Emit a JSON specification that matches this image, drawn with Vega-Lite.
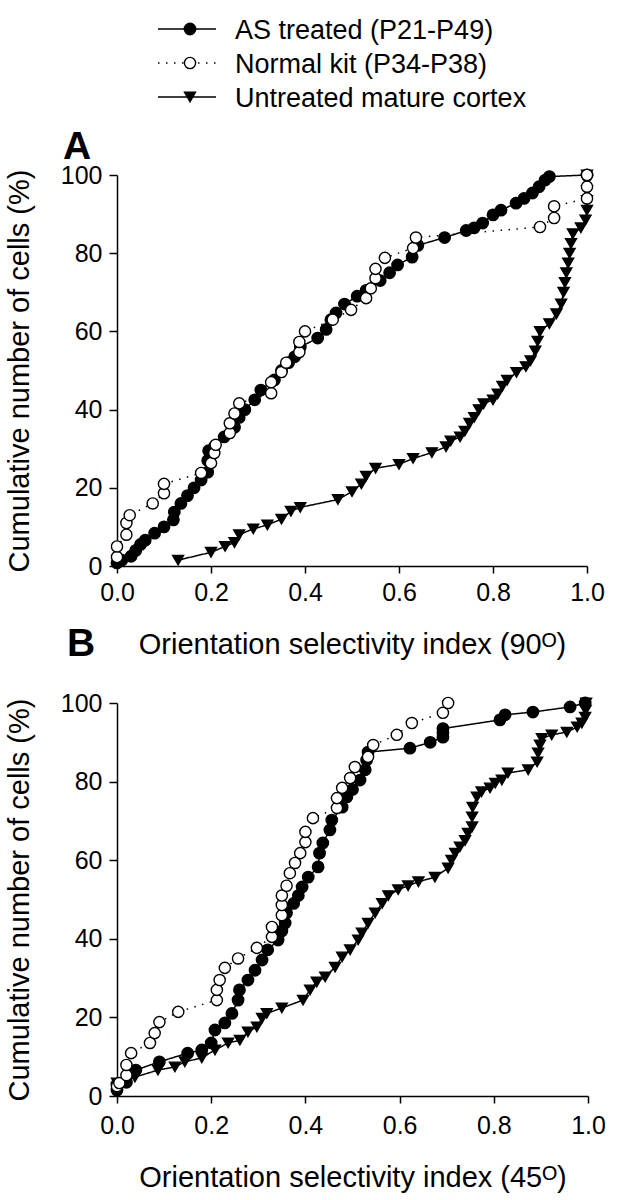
{
"$schema": "https://vega.github.io/schema/vega-lite/v6.json",
"background": "white",
"padding": {"left": 5, "top": 12, "right": 5, "bottom": 5},
"config": {
  "view": {"stroke": null},
  "font": "Liberation Sans",
  "axis": {"domainColor": "black", "domainWidth": 1.5, "tickColor": "black", "tickWidth": 1.5, "tickSize": 8, "labelFontSize": 25, "labelColor": "black", "labelFont": "Liberation Sans", "labelPadding": 7, "labelFlush": false, "labelOverlap": false, "titleFont": "Liberation Sans", "titleFontSize": 29, "titleFontWeight": "normal", "titleColor": "black", "grid": false},
  "axisX": {"titlePadding": 25, "tickSize": 7},
  "axisY": {"titlePadding": 26}
},
"datasets": {
  "leg": [
    {"g": "AS", "label": "AS treated (P21-P49)"},
    {"g": "NK", "label": "Normal kit (P34-P38)"},
    {"g": "UT", "label": "Untreated mature cortex"}
  ],
  "pts": [
{"p":"A","g":"UT","x":0.13,"y":1.5},{"p":"A","g":"UT","x":0.2,"y":3.5},{"p":"A","g":"UT","x":0.23,"y":5},{"p":"A","g":"UT","x":0.25,"y":6},{"p":"A","g":"UT","x":0.26,"y":8},{"p":"A","g":"UT","x":0.29,"y":9.5},{"p":"A","g":"UT","x":0.32,"y":10.5},{"p":"A","g":"UT","x":0.35,"y":12},{"p":"A","g":"UT","x":0.37,"y":14},{"p":"A","g":"UT","x":0.39,"y":15},{"p":"A","g":"UT","x":0.47,"y":17},{"p":"A","g":"UT","x":0.5,"y":19},{"p":"A","g":"UT","x":0.52,"y":21},{"p":"A","g":"UT","x":0.53,"y":23},{"p":"A","g":"UT","x":0.55,"y":25},{"p":"A","g":"UT","x":0.6,"y":26},{"p":"A","g":"UT","x":0.63,"y":27.5},{"p":"A","g":"UT","x":0.67,"y":29},{"p":"A","g":"UT","x":0.7,"y":30.5},{"p":"A","g":"UT","x":0.71,"y":32},{"p":"A","g":"UT","x":0.73,"y":33},{"p":"A","g":"UT","x":0.74,"y":34.5},{"p":"A","g":"UT","x":0.75,"y":36.5},{"p":"A","g":"UT","x":0.76,"y":38},{"p":"A","g":"UT","x":0.77,"y":40},{"p":"A","g":"UT","x":0.78,"y":41.5},{"p":"A","g":"UT","x":0.8,"y":42.5},{"p":"A","g":"UT","x":0.81,"y":44},{"p":"A","g":"UT","x":0.82,"y":46},{"p":"A","g":"UT","x":0.83,"y":47.5},{"p":"A","g":"UT","x":0.85,"y":49.5},{"p":"A","g":"UT","x":0.87,"y":51},{"p":"A","g":"UT","x":0.88,"y":52.5},{"p":"A","g":"UT","x":0.89,"y":55},{"p":"A","g":"UT","x":0.895,"y":57.5},{"p":"A","g":"UT","x":0.9,"y":60},{"p":"A","g":"UT","x":0.92,"y":62},{"p":"A","g":"UT","x":0.935,"y":64.5},{"p":"A","g":"UT","x":0.945,"y":67},{"p":"A","g":"UT","x":0.95,"y":70},{"p":"A","g":"UT","x":0.953,"y":72.5},{"p":"A","g":"UT","x":0.956,"y":75},{"p":"A","g":"UT","x":0.96,"y":77.5},{"p":"A","g":"UT","x":0.963,"y":80},{"p":"A","g":"UT","x":0.966,"y":82.5},{"p":"A","g":"UT","x":0.97,"y":85},{"p":"A","g":"UT","x":0.987,"y":86.5},{"p":"A","g":"UT","x":0.997,"y":88.5},{"p":"A","g":"UT","x":1,"y":91},{"p":"A","g":"UT","x":1,"y":93.5},{"p":"A","g":"UT","x":1,"y":96},{"p":"A","g":"UT","x":1,"y":98.5},{"p":"A","g":"UT","x":1,"y":100},
{"p":"A","g":"AS","x":0,"y":0.8},{"p":"A","g":"AS","x":0.01,"y":1.5},{"p":"A","g":"AS","x":0.03,"y":2.5},{"p":"A","g":"AS","x":0.04,"y":4},{"p":"A","g":"AS","x":0.05,"y":5.5},{"p":"A","g":"AS","x":0.06,"y":6.6},{"p":"A","g":"AS","x":0.08,"y":8.4},{"p":"A","g":"AS","x":0.1,"y":10},{"p":"A","g":"AS","x":0.12,"y":11.8},{"p":"A","g":"AS","x":0.122,"y":13.8},{"p":"A","g":"AS","x":0.136,"y":16},{"p":"A","g":"AS","x":0.15,"y":18},{"p":"A","g":"AS","x":0.164,"y":20},{"p":"A","g":"AS","x":0.179,"y":22},{"p":"A","g":"AS","x":0.193,"y":24},{"p":"A","g":"AS","x":0.193,"y":27},{"p":"A","g":"AS","x":0.195,"y":29.5},{"p":"A","g":"AS","x":0.207,"y":30.5},{"p":"A","g":"AS","x":0.228,"y":33},{"p":"A","g":"AS","x":0.25,"y":35.5},{"p":"A","g":"AS","x":0.26,"y":38},{"p":"A","g":"AS","x":0.272,"y":40},{"p":"A","g":"AS","x":0.293,"y":42.5},{"p":"A","g":"AS","x":0.306,"y":45},{"p":"A","g":"AS","x":0.335,"y":47.6},{"p":"A","g":"AS","x":0.35,"y":50},{"p":"A","g":"AS","x":0.365,"y":52},{"p":"A","g":"AS","x":0.378,"y":53.5},{"p":"A","g":"AS","x":0.39,"y":56},{"p":"A","g":"AS","x":0.427,"y":58.3},{"p":"A","g":"AS","x":0.445,"y":60.5},{"p":"A","g":"AS","x":0.455,"y":63},{"p":"A","g":"AS","x":0.466,"y":64.7},{"p":"A","g":"AS","x":0.484,"y":67},{"p":"A","g":"AS","x":0.511,"y":69},{"p":"A","g":"AS","x":0.53,"y":70.5},{"p":"A","g":"AS","x":0.56,"y":73},{"p":"A","g":"AS","x":0.58,"y":75},{"p":"A","g":"AS","x":0.597,"y":77},{"p":"A","g":"AS","x":0.628,"y":79},{"p":"A","g":"AS","x":0.64,"y":82},{"p":"A","g":"AS","x":0.697,"y":84},{"p":"A","g":"AS","x":0.743,"y":85.8},{"p":"A","g":"AS","x":0.76,"y":86.5},{"p":"A","g":"AS","x":0.778,"y":87.7},{"p":"A","g":"AS","x":0.8,"y":89.8},{"p":"A","g":"AS","x":0.817,"y":91},{"p":"A","g":"AS","x":0.849,"y":92.8},{"p":"A","g":"AS","x":0.866,"y":94},{"p":"A","g":"AS","x":0.884,"y":95.4},{"p":"A","g":"AS","x":0.898,"y":97},{"p":"A","g":"AS","x":0.911,"y":98.7},{"p":"A","g":"AS","x":0.92,"y":99.6},{"p":"A","g":"AS","x":1,"y":100},
{"p":"A","g":"NK","x":0,"y":2.3},{"p":"A","g":"NK","x":0,"y":5},{"p":"A","g":"NK","x":0.02,"y":8},{"p":"A","g":"NK","x":0.02,"y":11},{"p":"A","g":"NK","x":0.027,"y":13},{"p":"A","g":"NK","x":0.076,"y":16},{"p":"A","g":"NK","x":0.1,"y":18.6},{"p":"A","g":"NK","x":0.1,"y":21},{"p":"A","g":"NK","x":0.179,"y":23.8},{"p":"A","g":"NK","x":0.2,"y":26.3},{"p":"A","g":"NK","x":0.207,"y":28.9},{"p":"A","g":"NK","x":0.21,"y":31},{"p":"A","g":"NK","x":0.24,"y":34},{"p":"A","g":"NK","x":0.24,"y":36.5},{"p":"A","g":"NK","x":0.25,"y":39},{"p":"A","g":"NK","x":0.26,"y":41.6},{"p":"A","g":"NK","x":0.328,"y":44.2},{"p":"A","g":"NK","x":0.328,"y":47},{"p":"A","g":"NK","x":0.35,"y":49.6},{"p":"A","g":"NK","x":0.36,"y":52},{"p":"A","g":"NK","x":0.388,"y":54.7},{"p":"A","g":"NK","x":0.388,"y":57.3},{"p":"A","g":"NK","x":0.4,"y":60},{"p":"A","g":"NK","x":0.459,"y":63},{"p":"A","g":"NK","x":0.498,"y":65.5},{"p":"A","g":"NK","x":0.53,"y":68.5},{"p":"A","g":"NK","x":0.54,"y":71},{"p":"A","g":"NK","x":0.55,"y":73.6},{"p":"A","g":"NK","x":0.55,"y":76},{"p":"A","g":"NK","x":0.57,"y":78.8},{"p":"A","g":"NK","x":0.63,"y":81.3},{"p":"A","g":"NK","x":0.636,"y":84},{"p":"A","g":"NK","x":0.9,"y":86.7},{"p":"A","g":"NK","x":0.93,"y":89},{"p":"A","g":"NK","x":0.93,"y":92},{"p":"A","g":"NK","x":1,"y":94},{"p":"A","g":"NK","x":1,"y":97},{"p":"A","g":"NK","x":1,"y":100},
{"p":"B","g":"UT","x":0,"y":2},{"p":"B","g":"UT","x":0,"y":3.3},{"p":"B","g":"UT","x":0.038,"y":4.8},{"p":"B","g":"UT","x":0.087,"y":6.6},{"p":"B","g":"UT","x":0.123,"y":7.4},{"p":"B","g":"UT","x":0.144,"y":8.7},{"p":"B","g":"UT","x":0.18,"y":9.7},{"p":"B","g":"UT","x":0.208,"y":11.7},{"p":"B","g":"UT","x":0.236,"y":13.5},{"p":"B","g":"UT","x":0.261,"y":14.2},{"p":"B","g":"UT","x":0.278,"y":16.3},{"p":"B","g":"UT","x":0.297,"y":17.6},{"p":"B","g":"UT","x":0.308,"y":19.8},{"p":"B","g":"UT","x":0.318,"y":21},{"p":"B","g":"UT","x":0.35,"y":22.4},{"p":"B","g":"UT","x":0.395,"y":24.4},{"p":"B","g":"UT","x":0.41,"y":27},{"p":"B","g":"UT","x":0.424,"y":29},{"p":"B","g":"UT","x":0.442,"y":30.3},{"p":"B","g":"UT","x":0.463,"y":32.8},{"p":"B","g":"UT","x":0.478,"y":35.4},{"p":"B","g":"UT","x":0.495,"y":37.2},{"p":"B","g":"UT","x":0.512,"y":39.7},{"p":"B","g":"UT","x":0.52,"y":41.5},{"p":"B","g":"UT","x":0.533,"y":44},{"p":"B","g":"UT","x":0.548,"y":46.6},{"p":"B","g":"UT","x":0.563,"y":49},{"p":"B","g":"UT","x":0.576,"y":51},{"p":"B","g":"UT","x":0.597,"y":52.5},{"p":"B","g":"UT","x":0.618,"y":53.5},{"p":"B","g":"UT","x":0.64,"y":54.5},{"p":"B","g":"UT","x":0.675,"y":55.7},{"p":"B","g":"UT","x":0.703,"y":58},{"p":"B","g":"UT","x":0.71,"y":60},{"p":"B","g":"UT","x":0.718,"y":61.8},{"p":"B","g":"UT","x":0.728,"y":63.4},{"p":"B","g":"UT","x":0.739,"y":65},{"p":"B","g":"UT","x":0.745,"y":66.9},{"p":"B","g":"UT","x":0.754,"y":68.5},{"p":"B","g":"UT","x":0.754,"y":71},{"p":"B","g":"UT","x":0.755,"y":73.5},{"p":"B","g":"UT","x":0.764,"y":76.1},{"p":"B","g":"UT","x":0.774,"y":77.4},{"p":"B","g":"UT","x":0.792,"y":78.4},{"p":"B","g":"UT","x":0.803,"y":79.6},{"p":"B","g":"UT","x":0.817,"y":80.4},{"p":"B","g":"UT","x":0.83,"y":82.2},{"p":"B","g":"UT","x":0.873,"y":83},{"p":"B","g":"UT","x":0.892,"y":85},{"p":"B","g":"UT","x":0.894,"y":87.3},{"p":"B","g":"UT","x":0.898,"y":89.3},{"p":"B","g":"UT","x":0.902,"y":91},{"p":"B","g":"UT","x":0.923,"y":91.9},{"p":"B","g":"UT","x":0.955,"y":92.6},{"p":"B","g":"UT","x":0.977,"y":93.9},{"p":"B","g":"UT","x":0.987,"y":94.9},{"p":"B","g":"UT","x":0.994,"y":96.4},{"p":"B","g":"UT","x":0.995,"y":98.2},{"p":"B","g":"UT","x":0.996,"y":100},
{"p":"B","g":"AS","x":0,"y":1.5},{"p":"B","g":"AS","x":0,"y":3},{"p":"B","g":"AS","x":0.02,"y":3.5},{"p":"B","g":"AS","x":0.04,"y":6.6},{"p":"B","g":"AS","x":0.09,"y":8.7},{"p":"B","g":"AS","x":0.15,"y":10.9},{"p":"B","g":"AS","x":0.18,"y":11.7},{"p":"B","g":"AS","x":0.2,"y":13.5},{"p":"B","g":"AS","x":0.208,"y":16.8},{"p":"B","g":"AS","x":0.229,"y":18.6},{"p":"B","g":"AS","x":0.244,"y":21},{"p":"B","g":"AS","x":0.257,"y":24.4},{"p":"B","g":"AS","x":0.26,"y":27},{"p":"B","g":"AS","x":0.278,"y":29.5},{"p":"B","g":"AS","x":0.293,"y":32},{"p":"B","g":"AS","x":0.308,"y":34.6},{"p":"B","g":"AS","x":0.32,"y":37.2},{"p":"B","g":"AS","x":0.342,"y":39.7},{"p":"B","g":"AS","x":0.35,"y":42},{"p":"B","g":"AS","x":0.357,"y":44},{"p":"B","g":"AS","x":0.36,"y":46.6},{"p":"B","g":"AS","x":0.375,"y":49},{"p":"B","g":"AS","x":0.385,"y":51},{"p":"B","g":"AS","x":0.393,"y":53.2},{"p":"B","g":"AS","x":0.406,"y":55.7},{"p":"B","g":"AS","x":0.427,"y":58.3},{"p":"B","g":"AS","x":0.43,"y":61.8},{"p":"B","g":"AS","x":0.437,"y":64.4},{"p":"B","g":"AS","x":0.452,"y":67.7},{"p":"B","g":"AS","x":0.456,"y":70.2},{"p":"B","g":"AS","x":0.478,"y":73.5},{"p":"B","g":"AS","x":0.488,"y":76.1},{"p":"B","g":"AS","x":0.5,"y":78},{"p":"B","g":"AS","x":0.516,"y":80.4},{"p":"B","g":"AS","x":0.527,"y":83},{"p":"B","g":"AS","x":0.53,"y":85.5},{"p":"B","g":"AS","x":0.533,"y":87.5},{"p":"B","g":"AS","x":0.622,"y":88.5},{"p":"B","g":"AS","x":0.665,"y":90},{"p":"B","g":"AS","x":0.692,"y":91.3},{"p":"B","g":"AS","x":0.692,"y":92.5},{"p":"B","g":"AS","x":0.692,"y":93.5},{"p":"B","g":"AS","x":0.813,"y":95.7},{"p":"B","g":"AS","x":0.824,"y":97},{"p":"B","g":"AS","x":0.883,"y":97.7},{"p":"B","g":"AS","x":0.962,"y":99},{"p":"B","g":"AS","x":0.994,"y":100},
{"p":"B","g":"NK","x":0,"y":2.5},{"p":"B","g":"NK","x":0.005,"y":3.3},{"p":"B","g":"NK","x":0.02,"y":5.3},{"p":"B","g":"NK","x":0.02,"y":7.9},{"p":"B","g":"NK","x":0.03,"y":10.9},{"p":"B","g":"NK","x":0.07,"y":13.5},{"p":"B","g":"NK","x":0.08,"y":16},{"p":"B","g":"NK","x":0.09,"y":18.8},{"p":"B","g":"NK","x":0.13,"y":21.4},{"p":"B","g":"NK","x":0.212,"y":24.4},{"p":"B","g":"NK","x":0.212,"y":27},{"p":"B","g":"NK","x":0.218,"y":29.5},{"p":"B","g":"NK","x":0.229,"y":32.6},{"p":"B","g":"NK","x":0.257,"y":35},{"p":"B","g":"NK","x":0.297,"y":37.7},{"p":"B","g":"NK","x":0.329,"y":40.5},{"p":"B","g":"NK","x":0.329,"y":43},{"p":"B","g":"NK","x":0.35,"y":46},{"p":"B","g":"NK","x":0.35,"y":48.6},{"p":"B","g":"NK","x":0.35,"y":51},{"p":"B","g":"NK","x":0.36,"y":53.5},{"p":"B","g":"NK","x":0.367,"y":56.7},{"p":"B","g":"NK","x":0.378,"y":59.3},{"p":"B","g":"NK","x":0.389,"y":61.8},{"p":"B","g":"NK","x":0.4,"y":64.6},{"p":"B","g":"NK","x":0.4,"y":67.2},{"p":"B","g":"NK","x":0.416,"y":70.7},{"p":"B","g":"NK","x":0.467,"y":73.3},{"p":"B","g":"NK","x":0.467,"y":75.8},{"p":"B","g":"NK","x":0.478,"y":78.4},{"p":"B","g":"NK","x":0.495,"y":80.9},{"p":"B","g":"NK","x":0.505,"y":83.7},{"p":"B","g":"NK","x":0.533,"y":86.3},{"p":"B","g":"NK","x":0.544,"y":89.3},{"p":"B","g":"NK","x":0.594,"y":91.9},{"p":"B","g":"NK","x":0.626,"y":94.9},{"p":"B","g":"NK","x":0.692,"y":97.5},{"p":"B","g":"NK","x":0.703,"y":100}
  ]
},
"spacing": 61,
"bounds": "flush",
"vconcat": [
  {
    "width": 470, "height": 102,
    "data": {"name": "leg"},
    "encoding": {"y": {"field": "g", "type": "nominal", "scale": {"type": "point", "domain": ["AS", "NK", "UT"], "padding": 0.5}, "axis": null}},
    "layer": [
      {"mark": {"type": "rule", "color": "black", "strokeWidth": 1.5},
       "encoding": {
         "x": {"datum": 4.1, "type": "quantitative", "scale": {"domain": [0, 47], "nice": false, "zero": false}, "axis": null},
         "x2": {"datum": 9.9},
         "strokeDash": {"field": "g", "type": "nominal", "scale": {"domain": ["AS", "NK", "UT"], "range": [[1, 0], [1.5, 6.5], [1, 0]]}, "legend": null}
       }},
      {"mark": {"type": "point", "filled": true, "stroke": "black", "strokeWidth": 1.4, "opacity": 1},
       "encoding": {
         "x": {"datum": 7.3, "type": "quantitative"},
         "shape": {"field": "g", "type": "nominal", "scale": {"domain": ["AS", "NK", "UT"], "range": ["circle", "circle", "triangle-down"]}, "legend": null},
         "fill": {"field": "g", "type": "nominal", "scale": {"domain": ["AS", "NK", "UT"], "range": ["black", "white", "black"]}, "legend": null},
         "size": {"field": "g", "type": "nominal", "scale": {"domain": ["AS", "NK", "UT"], "range": [130, 120, 180]}, "legend": null}
       }},
      {"mark": {"type": "text", "align": "left", "baseline": "middle", "dy": 2, "fontSize": 27, "font": "Liberation Sans", "color": "black"},
       "encoding": {
         "x": {"datum": 11.8, "type": "quantitative"},
         "text": {"field": "label"}
       }}
    ]
  },
  {
    "spacing": 137,
    "bounds": "flush",
    "vconcat": [
      {
        "width": 470, "height": 391,
        "title": {"text": "A", "anchor": "start", "frame": "group", "dx": -54, "dy": 49, "fontSize": 39, "fontWeight": "bold", "font": "Liberation Sans", "color": "black", "baseline": "alphabetic", "offset": 14},
        "data": {"name": "pts"},
        "transform": [{"filter": "datum.p === 'A'"}],
        "encoding": {
          "x": {"field": "x", "type": "quantitative", "scale": {"domain": [0, 1], "nice": false}, "axis": {"values": [0, 0.2, 0.4, 0.6, 0.8, 1], "format": ".1f", "title": "Orientation selectivity index (90ᴼ)"}},
          "y": {"field": "y", "type": "quantitative", "scale": {"domain": [0, 100], "nice": false}, "axis": {"values": [0, 20, 40, 60, 80, 100], "title": "Cumulative number of cells (%)"}}
        },
        "layer": [
          {"mark": {"type": "line", "color": "black", "strokeWidth": 1.5},
           "encoding": {
             "detail": {"field": "g"},
             "order": {"field": "y"},
             "strokeDash": {"field": "g", "type": "nominal", "scale": {"domain": ["AS", "NK", "UT"], "range": [[1, 0], [1.5, 6.5], [1, 0]]}, "legend": null}
           }},
          {"mark": {"type": "point", "filled": true, "stroke": "black", "strokeWidth": 1.4, "opacity": 1},
           "encoding": {
             "shape": {"field": "g", "type": "nominal", "scale": {"domain": ["AS", "NK", "UT"], "range": ["circle", "circle", "triangle-down"]}, "legend": null},
             "fill": {"field": "g", "type": "nominal", "scale": {"domain": ["AS", "NK", "UT"], "range": ["black", "white", "black"]}, "legend": null},
             "size": {"field": "g", "type": "nominal", "scale": {"domain": ["AS", "NK", "UT"], "range": [130, 120, 180]}, "legend": null}
           }}
        ]
      },
      {
        "width": 471, "height": 393,
        "title": {"text": "B", "anchor": "start", "frame": "group", "dx": -50, "dy": 50, "fontSize": 39, "fontWeight": "bold", "font": "Liberation Sans", "color": "black", "baseline": "alphabetic", "offset": 46},
        "data": {"name": "pts"},
        "transform": [{"filter": "datum.p === 'B'"}],
        "encoding": {
          "x": {"field": "x", "type": "quantitative", "scale": {"domain": [0, 1], "nice": false}, "axis": {"values": [0, 0.2, 0.4, 0.6, 0.8, 1], "format": ".1f", "title": "Orientation selectivity index (45ᴼ)", "labelPadding": 10}},
          "y": {"field": "y", "type": "quantitative", "scale": {"domain": [0, 100], "nice": false}, "axis": {"values": [0, 20, 40, 60, 80, 100], "title": "Cumulative number of cells (%)"}}
        },
        "layer": [
          {"mark": {"type": "line", "color": "black", "strokeWidth": 1.5},
           "encoding": {
             "detail": {"field": "g"},
             "order": {"field": "y"},
             "strokeDash": {"field": "g", "type": "nominal", "scale": {"domain": ["AS", "NK", "UT"], "range": [[1, 0], [1.5, 6.5], [1, 0]]}, "legend": null}
           }},
          {"mark": {"type": "point", "filled": true, "stroke": "black", "strokeWidth": 1.4, "opacity": 1},
           "encoding": {
             "shape": {"field": "g", "type": "nominal", "scale": {"domain": ["AS", "NK", "UT"], "range": ["circle", "circle", "triangle-down"]}, "legend": null},
             "fill": {"field": "g", "type": "nominal", "scale": {"domain": ["AS", "NK", "UT"], "range": ["black", "white", "black"]}, "legend": null},
             "size": {"field": "g", "type": "nominal", "scale": {"domain": ["AS", "NK", "UT"], "range": [130, 120, 180]}, "legend": null}
           }}
        ]
      }
    ]
  }
]
}
